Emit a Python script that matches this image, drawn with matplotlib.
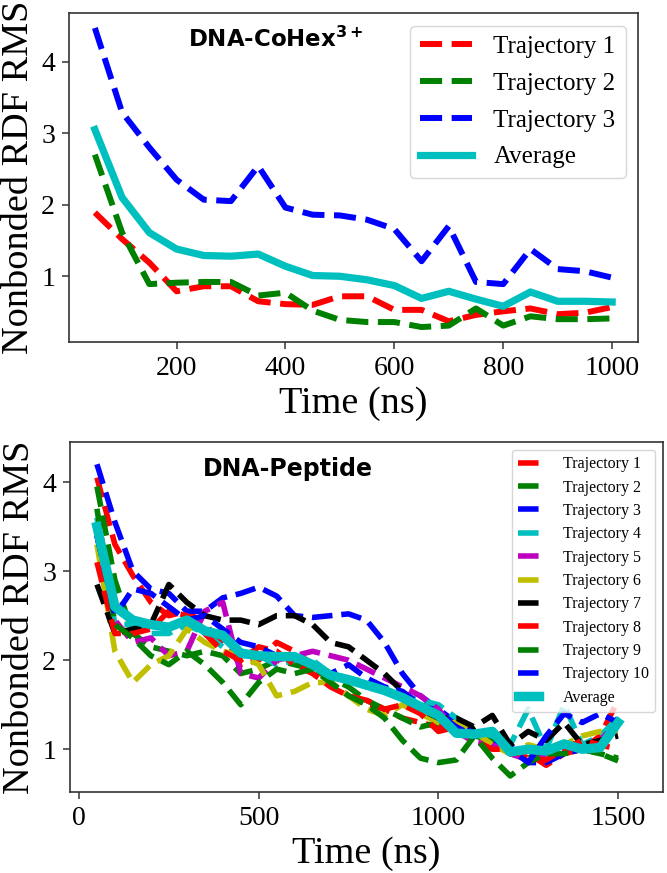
import matplotlib
matplotlib.use("Agg")
import matplotlib.pyplot as plt

# ---------------- data ----------------
time_top = [50, 100, 150, 200, 250, 300, 350, 400, 450, 500,
            550, 600, 650, 700, 750, 800, 850, 900, 950, 1000]
cohex_traj1 = [1.89, 1.52, 1.19, 0.79, 0.86, 0.86, 0.65, 0.61, 0.60, 0.72,
               0.72, 0.53, 0.53, 0.37, 0.46, 0.51, 0.55, 0.47, 0.49, 0.57]
cohex_traj2 = [2.70, 1.61, 0.89, 0.91, 0.92, 0.92, 0.73, 0.77, 0.52, 0.39,
               0.36, 0.36, 0.29, 0.31, 0.55, 0.31, 0.44, 0.40, 0.40, 0.41]
cohex_traj3 = [4.47, 3.29, 2.80, 2.35, 2.07, 2.05, 2.54, 1.96, 1.86, 1.85,
               1.79, 1.66, 1.21, 1.70, 0.92, 0.89, 1.38, 1.10, 1.07, 0.98]
cohex_avg = [3.05, 2.10, 1.61, 1.38, 1.29, 1.28, 1.31, 1.14, 1.01, 1.00,
             0.95, 0.87, 0.69, 0.79, 0.68, 0.58, 0.78, 0.65, 0.65, 0.64]
cohex_labels = ["Trajectory 1", "Trajectory 2", "Trajectory 3", "Average"]

time_bot = [50, 100, 150, 200, 250, 300, 350, 400, 450, 500,
            550, 600, 650, 700, 750, 800, 850, 900, 950, 1000,
            1050, 1100, 1150, 1200, 1250, 1300, 1350, 1400, 1450, 1500]
pep_traj1 = [4.05, 3.30, 2.95, 2.65, 2.50, 2.55, 2.40, 2.20, 1.95, 2.00,
             2.20, 2.10, 1.95, 1.75, 1.60, 1.50, 1.45, 1.35, 1.30, 1.25,
             1.30, 1.20, 1.05, 1.00, 0.95, 0.82, 0.95, 1.00, 1.15, 1.55]
pep_traj2 = [3.95, 2.90, 2.30, 2.15, 2.10, 2.05, 2.10, 2.05, 1.85, 1.90,
             2.00, 1.95, 1.90, 1.80, 1.70, 1.55, 1.45, 1.35, 1.25, 1.30,
             1.20, 1.15, 1.10, 0.95, 0.90, 1.00, 1.05, 1.00, 0.95, 0.90]
pep_traj3 = [4.20, 3.55, 3.00, 2.80, 2.75, 2.55, 2.55, 2.70, 2.75, 2.82,
             2.72, 2.50, 2.48, 2.50, 2.52, 2.45, 2.20, 1.85, 1.60, 1.45,
             1.30, 1.20, 1.10, 1.05, 0.85, 0.85, 0.95, 1.00, 1.05, 1.35]
pep_traj4 = [3.60, 2.40, 2.40, 2.30, 2.30, 2.40, 2.30, 2.15, 2.05, 2.05,
             1.95, 2.00, 2.00, 1.85, 1.80, 1.75, 1.70, 1.60, 1.55, 1.50,
             1.35, 1.20, 1.15, 1.05, 1.45, 1.00, 1.50, 1.05, 1.15, 1.35]
pep_traj5 = [3.40, 2.45, 2.20, 2.25, 2.05, 2.10, 2.55, 2.65, 1.85, 1.80,
             2.00, 2.05, 2.10, 2.05, 2.00, 1.90, 1.80, 1.70, 1.60, 1.45,
             1.20, 1.08, 1.05, 0.95, 0.88, 0.95, 1.00, 1.05, 1.10, 1.30]
pep_traj6 = [3.30, 2.10, 1.75, 1.95, 2.05, 2.35, 2.20, 2.10, 2.05, 1.95,
             1.60, 1.65, 1.75, 1.75, 1.60, 1.45, 1.38, 1.50, 1.40, 1.30,
             1.30, 1.20, 1.05, 0.95, 1.05, 1.00, 1.05, 1.15, 1.20, 1.20]
pep_traj7 = [2.85, 2.30, 2.35, 2.40, 2.85, 2.65, 2.50, 2.45, 2.45, 2.40,
             2.50, 2.50, 2.40, 2.20, 2.15, 2.00, 1.85, 1.65, 1.45, 1.35,
             1.35, 1.25, 1.38, 1.05, 1.20, 1.10, 1.30, 1.05, 1.10, 1.15]
pep_traj8 = [3.10, 2.30, 2.30, 2.35, 2.55, 2.50, 2.30, 2.10, 2.00, 2.15,
             2.10, 1.95, 1.85, 1.70, 1.60, 1.55, 1.45, 1.50, 1.40, 1.20,
             1.25, 1.10, 1.00, 1.00, 0.90, 0.88, 1.00, 1.10, 1.05, 1.00]
pep_traj9 = [3.70, 2.40, 2.25, 2.05, 1.95, 2.10, 1.95, 1.75, 1.50, 1.75,
             1.90, 1.85, 1.90, 1.75, 1.60, 1.50, 1.35, 1.10, 0.90, 0.85,
             0.88, 1.15, 0.90, 0.70, 0.85, 0.95, 0.95, 1.00, 0.95, 0.87]
pep_traj10 = [3.40, 2.50, 2.80, 2.75, 2.60, 2.45, 2.50, 2.35, 2.20, 2.15,
              2.05, 2.05, 1.95, 1.85, 1.95, 1.80, 1.70, 1.65, 1.50, 1.40,
              1.25, 1.15, 1.20, 1.00, 0.85, 1.15, 1.40, 1.30, 1.40, 1.30]
pep_avg = [3.50, 2.60, 2.45, 2.40, 2.37, 2.45, 2.33, 2.28, 2.08, 2.05,
           2.04, 2.04, 1.95, 1.83, 1.78, 1.72, 1.66, 1.58, 1.48, 1.38,
           1.18, 1.17, 1.20, 0.97, 1.00, 0.98, 1.06, 1.00, 1.02, 1.30]
pep_trajs = [pep_traj1, pep_traj2, pep_traj3, pep_traj4, pep_traj5,
             pep_traj6, pep_traj7, pep_traj8, pep_traj9, pep_traj10]
pep_colors = ["r", "g", "b", "c", "m", "y", "k", "r", "g", "b"]
pep_labels = ["Trajectory %d" % (i + 1) for i in range(10)]

# ---------------- figure ----------------
W, H = 667, 873
fig = plt.figure(figsize=(W / 100, H / 100), dpi=100)

serif = ["Liberation Serif", "DejaVu Serif"]
tick_fs = 20
lab_fs = 27.5

def frac(l, t, r, b):
    return [l / W, 1 - b / H, (r - l) / W, (b - t) / H]

# Top panel
ax1 = fig.add_axes(frac(69, 13, 638, 342))
lw = 4.3
ax1.plot(time_top, cohex_traj1, "r--", lw=lw, label=cohex_labels[0])
ax1.plot(time_top, cohex_traj2, "g--", lw=lw, label=cohex_labels[1])
ax1.plot(time_top, cohex_traj3, "b--", lw=lw, label=cohex_labels[2])
ax1.plot(time_top, cohex_avg, "c-", lw=5.2, label=cohex_labels[3])
ax1.set_xticks([200, 400, 600, 800, 1000])
ax1.set_yticks([1, 2, 3, 4])
ax1.text(0.21, 0.958, r"DNA-CoHex$^{\mathbf{3+}}$", transform=ax1.transAxes,
         fontsize=16.5, fontweight="bold", family="DejaVu Sans", va="top", ha="left")
leg1 = ax1.legend(loc="upper right", prop={"family": serif, "size": 18},
                  handlelength=2.1, handletextpad=0.85, labelspacing=0.57,
                  borderaxespad=0.5)

# Bottom panel
ax2 = fig.add_axes(frac(70, 442, 663, 792))
for tr, c, lb in zip(pep_trajs, pep_colors, pep_labels):
    ax2.plot(time_bot, tr, color=c, ls="--", lw=4.0, label=lb)
ax2.plot(time_bot, pep_avg, "c-", lw=6.8, label="Average")
ax2.set_xlim(-25, 1625)
ax2.set_ylim(0.52, 4.45)
ax2.set_xticks([0, 500, 1000, 1500])
ax2.set_yticks([1, 2, 3, 4])
ax2.text(0.224, 0.958, "DNA-Peptide", transform=ax2.transAxes,
         fontsize=17, fontweight="bold", family="DejaVu Sans", va="top", ha="left")
leg2 = ax2.legend(loc="upper right", prop={"family": serif, "size": 11.5},
                  handlelength=1.3, handletextpad=1.5, labelspacing=0.46,
                  borderaxespad=0.5)

for ax in (ax1, ax2):
    ax.set_xlabel("Time (ns)", fontsize=lab_fs, family=serif)
    ax.set_ylabel("Nonbonded RDF RMS", fontsize=lab_fs, family=serif)
    ax.tick_params(labelsize=tick_fs, length=5, width=1.1, pad=5, color="#333333")
    for t in ax.get_xticklabels() + ax.get_yticklabels():
        t.set_family(serif)
    for s in ax.spines.values():
        s.set_linewidth(1.2)
        s.set_color("#333333")

fig.savefig("out.png", dpi=100)
